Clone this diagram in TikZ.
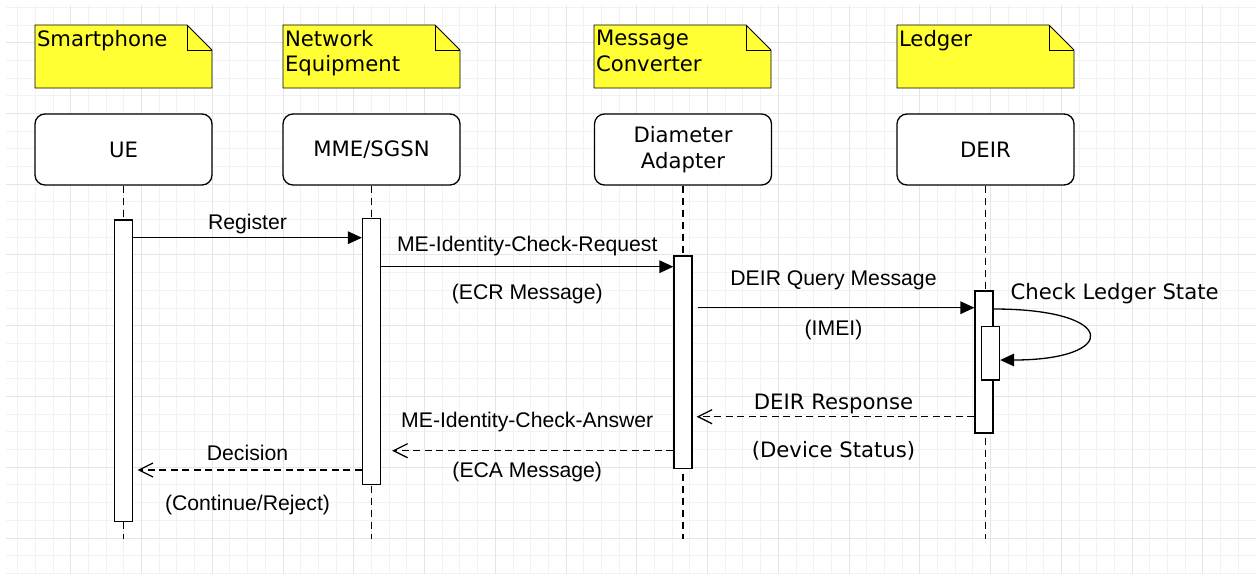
\documentclass[tikz,border=0pt]{standalone}
\usepackage{fontspec}
\setmainfont{DejaVu Sans}
\newfontfamily\hvfont{Liberation Sans}
\usetikzlibrary{arrows.meta,backgrounds}
\definecolor{notey}{HTML}{FFFF33}

\begin{document}
\begin{tikzpicture}[x=0.5pt,y=-0.5pt,line width=0.65pt,font=\fontsize{10.6}{12.7}\selectfont,
  gridminor/.style={draw=black!5,line width=0.5pt},
  gridmajor/.style={draw=black!10,line width=0.5pt},
  head/.style={draw,fill=white,rounded corners=5pt,minimum width=88.5pt,minimum height=35.5pt,align=center,inner sep=0pt},
  note/.style={anchor=north west,align=left,inner xsep=1pt,inner ysep=2.6pt,outer sep=0pt},
  act/.style={draw,fill=white,minimum width=9pt,inner sep=0pt},
  life/.style={dash pattern=on 3.5pt off 2.5pt},
  msg/.style={-{Triangle[length=7pt,width=6.3pt]}},
  reply/.style={dash pattern=on 3.5pt off 2.25pt,-{Straight Barb[length=7pt,width=7pt]}},
  lbl/.style={anchor=base,midway,font=\fontsize{10.6}{12.7}\hvfont},
  dvlbl/.style={anchor=base,midway}]
\useasboundingbox (0,0) rectangle (1256,574);

\node[note] (sp) at (35,25) {Smartphone};
\node[note] (ne) at (283,25) {Network\\Equipment};
\node[note] (mc) at (594,25) {Message\\Converter};
\node[note] (ld) at (897,25) {Ledger};

\node[head] (ue) at (123.5,149.5) {UE};
\node[head] (mme) at (371.5,149.5) {MME/SGSN};
\node[head] (da) at (683,149.5) {Diameter\\Adapter};
\node[head] (deir) at (985.5,149.5) {DEIR};

\coordinate (bottom) at (0,539.3);
\foreach \n in {ue,mme,da,deir}
  \draw[life] (\n.south) -- (\n.south |- bottom);

\node[act,minimum height=150.85pt] (uebar) at (123.5,370.85) {};
\node[act,minimum height=133pt] (mmebar) at (371.5,351.3) {};
\node[act,minimum height=106.15pt] (dabar) at (683,362.15) {};
\node[act,minimum height=71pt] (deirbar) at (984,362) {};
\node[act,minimum height=26.65pt] (chkbar) at (990.5,353.35) {};

\coordinate (reg) at (0,237.7);
\coordinate (ecr) at (0,266.7);
\coordinate (qry) at (0,307.7);
\coordinate (chk) at (0,309);
\coordinate (chkend) at (0,360);
\coordinate (rsp) at (0,416.7);
\coordinate (eca) at (0,450.7);
\coordinate (dec) at (0,470);

\draw[msg] (uebar.east |- reg) -- node[lbl,yshift=4.15pt] (reglbl) {Register} (mmebar.west |- reg);
\draw[msg] (mmebar.east |- ecr) -- node[lbl,yshift=7.85pt] (ecrlbl) {ME-Identity-Check-Request}
  node[lbl,yshift=-16.35pt] (ecrsub) {(ECR Message)} (dabar.west |- ecr);
\draw[msg,shorten <=2.5pt] (dabar.east |- qry) -- node[lbl,yshift=11pt] (qrylbl) {DEIR Query Message}
  node[lbl,yshift=-14pt] (qrysub) {(IMEI)} (deirbar.west |- qry);
\draw[msg] (deirbar.east |- chk) .. controls +(126,0) and +(119,0) .. (chkbar.east |- chkend);
\node[anchor=base west,inner sep=0pt] (chklbl) at (1010,299.7) {Check Ledger State};
\draw[reply,shorten >=2pt] (deirbar.west |- rsp) -- node[dvlbl,yshift=3.65pt] (rsplbl) {DEIR Response}
  node[dvlbl,yshift=-20.5pt] (rspsub) {(Device Status)} (dabar.east |- rsp);
\draw[reply,shorten >=5.5pt] (dabar.west |- eca) -- node[lbl,yshift=11.5pt] (ecalbl) {ME-Identity-Check-Answer}
  node[lbl,yshift=-13.5pt] (ecasub) {(ECA Message)} (mmebar.east |- eca);
\draw[reply,shorten >=2.2pt] (mmebar.west |- dec) -- node[lbl,yshift=4.65pt] (declbl) {Decision}
  node[lbl,yshift=-20.35pt] (decsub) {(Continue/Reject)} (uebar.east |- dec);

\begin{scope}[on background layer]
  \foreach \i in {1,...,70}
    \draw[gridminor] ({\i*17.69},5) -- ({\i*17.69},574);
  \foreach \j in {0,...,32}
    \draw[gridminor] (6,{7.33+\j*17.69}) -- (1256,{7.33+\j*17.69});
  \foreach \i in {4,8,...,68}
    \draw[gridmajor] ({\i*17.69},5) -- ({\i*17.69},574);
  \foreach \j in {2,6,...,30}
    \draw[gridmajor] (6,{7.33+\j*17.69}) -- (1256,{7.33+\j*17.69});
  \foreach \n in {sp,ne,mc,ld}{
    \filldraw[fill=notey] (\n.north west) -- ++(152,0) -- ++(25,25) -- ++(0,38) -- ++(-177,0) -- cycle;
    \draw (\n.north west) ++(152,0) -- ++(0,25) -- ++(25,0);
  }
\end{scope}
\end{tikzpicture}
\end{document}
